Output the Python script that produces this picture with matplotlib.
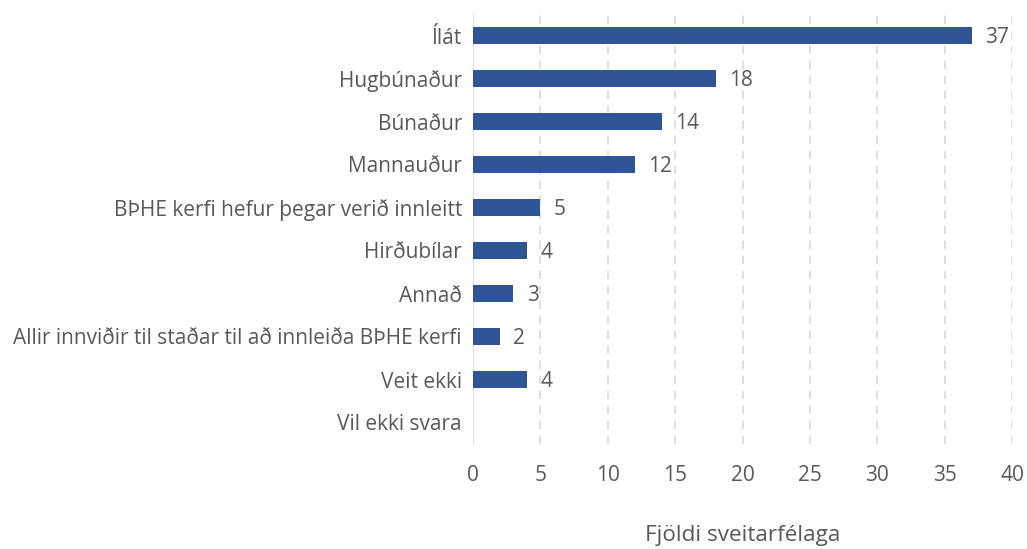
import matplotlib
matplotlib.use("Agg")
import matplotlib.pyplot as plt

categories = ["Ílát", "Hugbúnaður", "Búnaður", "Mannauður",
              "BÞHE kerfi hefur þegar verið innleitt", "Hirðubílar", "Annað",
              "Allir innviðir til staðar til að innleiða BÞHE kerfi",
              "Veit ekki", "Vil ekki svara"]
values = [37, 18, 14, 12, 5, 4, 3, 2, 4, None]
xticks = [0, 5, 10, 15, 20, 25, 30, 35, 40]
xlabel = "Fjöldi sveitarfélaga"

plt.rcParams['font.family'] = ['Open Sans', 'DejaVu Sans']
txt = "#595959"
bar_color = "#2F5597"
grid_color = "#D9D9D9"
fs = 15.0

fig = plt.figure(figsize=(10.27, 5.49), dpi=100)
ax = fig.add_axes([473/1027, 1-444/549, (1012-473)/1027, (444-14)/549])

n = len(categories)
ys = list(range(n))
vals = [v if v is not None else 0 for v in values]
ax.barh(ys, vals, height=0.4, color=bar_color, zorder=3)
for y, v in zip(ys, values):
    if v:
        ax.text(v + 1.0, y + 0.05, str(v), va='center', ha='left', fontsize=fs, color=txt)

ax.set_ylim(n - 0.5, -0.5)
ax.set_xlim(0, 40)
ax.set_yticks(ys)
ax.set_yticklabels(categories, fontsize=fs, color=txt)
ax.set_xticks(xticks)
ax.set_xticklabels([str(t) for t in xticks], fontsize=fs, color=txt)
ax.tick_params(axis='both', length=0)
ax.tick_params(axis='y', pad=8)
ax.tick_params(axis='x', pad=15)
for s in ax.spines.values():
    s.set_visible(False)
ax.axvline(0, color=grid_color, lw=1.2, zorder=2)
for t in xticks[1:]:
    ax.axvline(t, color=grid_color, lw=1.2, ls=(0, (5, 4)), zorder=1)
fig.text(742.5/1027, 1-536/549, xlabel, fontsize=16.2, color=txt,
         ha='center', va='center')

fig.savefig("out.png", dpi=100)
